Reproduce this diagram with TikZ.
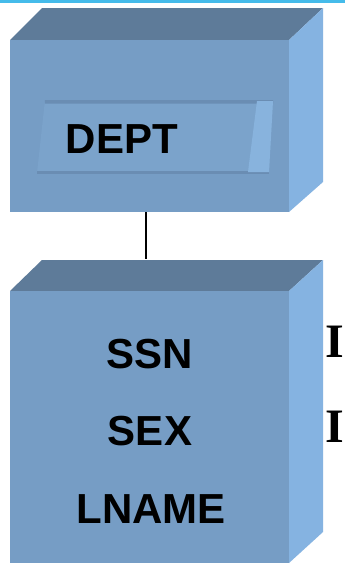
\documentclass[tikz,border=0pt]{standalone}
\usepackage{fontspec}
\newfontfamily\boxfont{Liberation Sans}
\newfontfamily\markfont{Liberation Serif}
\begin{document}
\begin{tikzpicture}[x=1pt,y=-1pt,
  front/.style={fill=frontblue},
  topface/.style={fill=topblue},
  sideface/.style={fill=sideblue},
  attr/.style={font=\boxfont\bfseries\fontsize{42}{42}\selectfont, anchor=base, inner sep=0pt, text=black},
  sidemark/.style={font=\markfont\bfseries\fontsize{48}{48}\selectfont, anchor=base west, inner sep=0pt, text=black},
  link/.style={draw=black, line width=1.6pt}]
\definecolor{frontblue}{HTML}{769DC5}
\definecolor{topblue}{HTML}{5E7B99}
\definecolor{sideblue}{HTML}{85B3E1}
\definecolor{panelblue}{HTML}{7BA3CB}
\definecolor{paneledge}{HTML}{6A8DB3}
\definecolor{bevel}{HTML}{88B3DD}
\definecolor{rule}{HTML}{45BBEA}
\useasboundingbox (0,0) rectangle (345,566);
\fill[white] (0,0) rectangle (345,566);
% rule along the top edge
\fill[rule] (0,0) rectangle (345,2.5);

% upper block: DEPT
\coordinate (dtl) at (10,40);
\coordinate (dbr) at (289,212);
\fill[topface] (10,40) -- (42,8) -- (323,8) -- (289,40) -- cycle;
\fill[sideface] (289,40) -- (323,8) -- (323,182) -- (289,212) -- cycle;
\fill[front] (dtl) rectangle (dbr);
% recessed label panel
\fill[panelblue] (45,100) -- (273,100) -- (269,173) -- (37,173) -- cycle;
\fill[paneledge] (45,100) -- (273,100) -- (273,103.5) -- (44.8,103.5) -- cycle;
\fill[paneledge] (37,171) -- (269,171) -- (269,174) -- (37,174) -- cycle;
\fill[bevel] (257,101) -- (273,101) -- (269,172) -- (248,172) -- cycle;
\node[attr] (dept) at (122,153) {DEPT};

% lower block: attributes
\coordinate (etl) at (10,291);
\coordinate (ebr) at (289,563);
\fill[topface] (10,291) -- (42,260) -- (323,260) -- (289,291) -- cycle;
\fill[sideface] (289,291) -- (323,260) -- (323,532) -- (289,563) -- cycle;
\fill[front] (etl) rectangle (ebr);
\node[attr] (ssn) at (150,368) {SSN};
\node[attr] (sex) at (150,445) {SEX};
\node[attr] (lname) at (151,523) {LNAME};

% markers beside the lower block
\node[sidemark] (m1) at (325,357) {I};
\node[sidemark] (m2) at (325,442) {I};

% link between the blocks
\coordinate (up) at (146,212);
\coordinate (down) at (146,259);
\draw[link] (up) -- (down);
\end{tikzpicture}
\end{document}
